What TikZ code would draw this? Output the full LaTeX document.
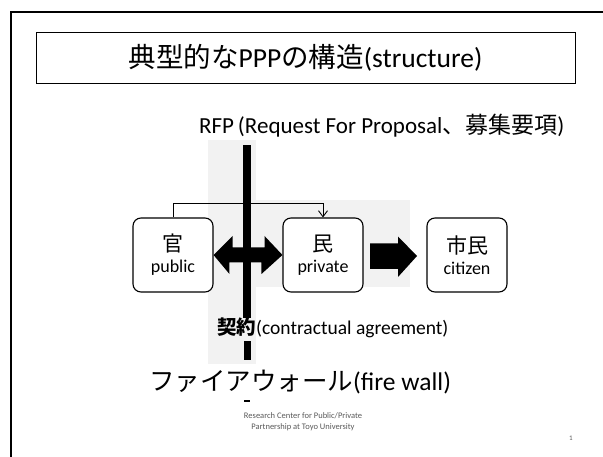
\documentclass[tikz,border=0pt]{standalone}
\usepackage{fontspec}
\usetikzlibrary{arrows.meta}
\setmainfont{Carlito}
\newfontfamily\jp{Noto Sans CJK JP}
\begin{document}
\begin{tikzpicture}[x=1pt,y=-1pt,
  box/.style={draw=black,line width=1.1pt,rounded corners=8pt,minimum width=80pt,minimum height=74pt,fill=white,align=center,inner sep=0pt,font=\fontsize{18}{24}\selectfont},
  lbl/.style={inner sep=0pt,anchor=west},
  shade/.style={fill=black!5,draw=none}]
\useasboundingbox (0,0) rectangle (603,457);
% outer frame
\draw[line width=1.4pt] (10,12) coordinate (fa) -- (603,12) coordinate (fb);
\draw[line width=1.4pt] (11,12) coordinate (fc) -- (11,457) coordinate (fd);
% title
\node[draw=black,line width=0.9pt,minimum width=539pt,minimum height=51pt,inner sep=0pt,font=\fontsize{27.5}{30}\selectfont] (title) at (305.5,57.5) {{\jp 典型的な}PPP{\jp の構造}(structure)};
% shading
\fill[shade] (208,140) rectangle (256,364);
\fill[shade] (256,200) rectangle (410,287);
% RFP label
\node[lbl,font=\fontsize{23}{26}\selectfont] (rfp) at (199,126) {RFP\,(Request For Proposal{\jp 、募集要項})};
% boxes
\node[box] (pub) at (173,255) {{\jp\fontsize{21}{24}\selectfont 官}\\[-3pt]public};
\node[box] (pri) at (323,255) {{\jp\fontsize{21}{24}\selectfont 民}\\[-3pt]private};
\node[box] (cit) at (467,255) {{\jp\fontsize{21}{24}\selectfont 市民}\\[-3pt]citizen};
% bracket connector
\coordinate (k1) at (173,203);
\coordinate (k2) at (323,203);
\draw[line width=0.9pt,-{Straight Barb[length=6pt,width=9pt]}] (pub.north -| k1) -- (k1) -- (k2) -- (pri.north);
% double arrow between public and private
\fill[black] (pub.east) -- ++(19,-19) -- ++(0,11.5) -- ++(32,0) -- ++(0,-11.5) -- (pri.west) -- ++(-21,19) -- ++(0,-11.5) -- ++(-32,0) -- ++(0,11.5) -- cycle;
% right arrow private -> citizen
\coordinate (ra) at (370,256);
\coordinate (rb) at (417,256);
\fill[black] (ra) ++(0,-12.5) -- ++(28,0) -- ++(0,-7) -- (rb) -- ++(-19,21) -- ++(0,-8) -- ++(-28,0) -- cycle;
% fire wall
\fill[black] (243,145) rectangle (251,318);
\fill[black] (244,341) rectangle (251,360);
\fill[black] (244,400) rectangle (250,402);
% labels
\node[lbl,font=\fontsize{19.5}{22}\selectfont] (kei) at (217,328) {{\jp\bfseries 契約}(contractual agreement)};
\node[lbl,font=\fontsize{25.5}{28}\selectfont] (fw) at (149,382) {{\jp ファイアウォール}(fire wall)};
% footer
\node[inner sep=0pt,align=center,text=black!65,font=\fontsize{8.5}{11}\selectfont] (foot) at (303,422) {Research Center for Public/Private\\Partnership at Toyo University};
\node[inner sep=0pt,text=black!65,font=\fontsize{7}{8}\selectfont] (pg) at (571,438) {1};
\end{tikzpicture}
\end{document}
